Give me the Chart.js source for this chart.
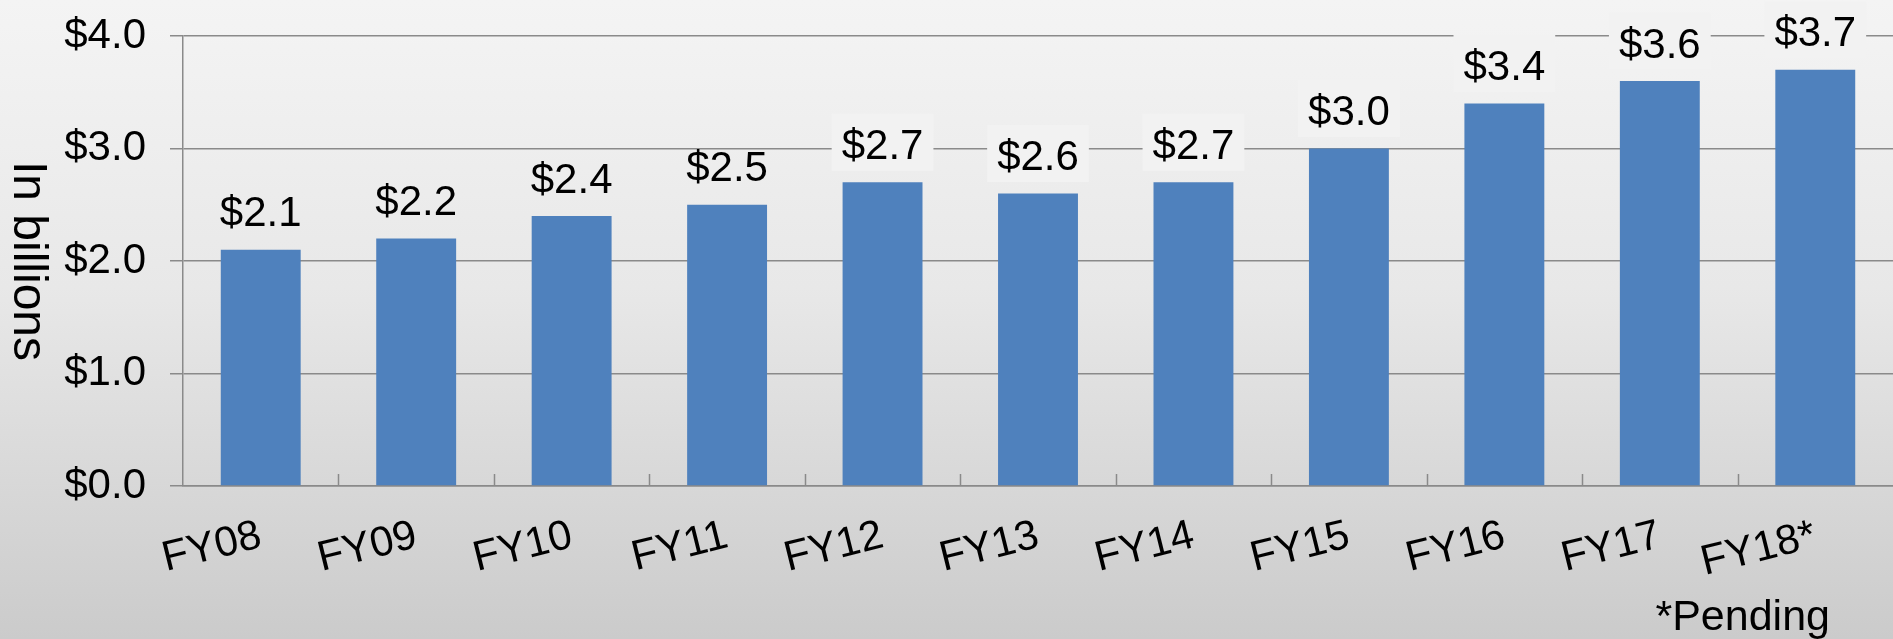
<!DOCTYPE html>
<html>
<head>
<meta charset="utf-8">
<title>Fondos por año fiscal</title>
<script src="https://cdn.jsdelivr.net/npm/chart.js@4.4.1/dist/chart.umd.min.js"></script>
<style>
    html, body { margin: 0; padding: 0; overflow: hidden; }
    body {
        width: 1893px;
        height: 639px;
        background: linear-gradient(to bottom, #f4f4f4 0%, #e8e8e8 45%, #cbcbcb 100%);
    }
    canvas { display: block; }
</style>
</head>
<body>
<canvas id="chartFondos" width="1893" height="639"></canvas>
<script>
// Datos del gráfico
const categorias = ['FY08', 'FY09', 'FY10', 'FY11', 'FY12', 'FY13', 'FY14', 'FY15', 'FY16', 'FY17', 'FY18*'];
const valores = [2.1, 2.2, 2.4, 2.5, 2.7, 2.6, 2.7, 3.0, 3.4, 3.6, 3.7];
const ticksY = [0, 1, 2, 3, 4];
const tituloEje = 'In billions';
const notaPie = '*Pending';

const FUENTE = '"Liberation Sans", Arial, sans-serif';
const GRIS = '#8a8a8a';

// Etiquetas de valor encima de cada barra (las de FY12 en adelante llevan caja de fondo)
const etiquetasValor = {
    id: 'etiquetasValor',
    afterDatasetsDraw(chart) {
        const ctx = chart.ctx;
        const meta = chart.getDatasetMeta(0);
        ctx.save();
        ctx.font = '42px ' + FUENTE;
        ctx.textAlign = 'center';
        ctx.textBaseline = 'alphabetic';
        meta.data.forEach((barra, i) => {
            const texto = '$' + valores[i].toFixed(1);
            const ancho = ctx.measureText(texto).width + 20;
            const base = barra.y - 23.5;
            if (i >= 4) {
                ctx.fillStyle = '#f2f2f2';
                ctx.fillRect(barra.x - ancho / 2, base - 45, ancho, 57);
            }
            ctx.fillStyle = '#000';
            ctx.fillText(texto, barra.x, base);
        });
        ctx.restore();
    }
};

// Marcas interiores del eje X, título del eje Y y nota al pie
const decoracion = {
    id: 'decoracion',
    beforeDatasetsDraw(chart) {
        const ctx = chart.ctx;
        const x = chart.scales.x;
        const abajo = chart.chartArea.bottom;
        ctx.save();
        ctx.strokeStyle = GRIS;
        ctx.lineWidth = 1.5;
        for (let i = 1; i < categorias.length; i++) {
            const px = Math.round(x.getPixelForValue(i - 0.5)) + 0.5;
            ctx.beginPath();
            ctx.moveTo(px, abajo);
            ctx.lineTo(px, abajo - 12);
            ctx.stroke();
        }
        ctx.restore();
    },
    afterDraw(chart) {
        const ctx = chart.ctx;
        const area = chart.chartArea;
        ctx.save();
        ctx.fillStyle = '#000';
        ctx.font = '48px ' + FUENTE;
        ctx.textAlign = 'center';
        ctx.textBaseline = 'alphabetic';
        ctx.translate(14, (area.top + area.bottom) / 2);
        ctx.rotate(Math.PI / 2);
        ctx.fillText(tituloEje, 0, 0);
        ctx.restore();

        ctx.save();
        ctx.fillStyle = '#000';
        ctx.font = '43px ' + FUENTE;
        ctx.textAlign = 'right';
        ctx.textBaseline = 'alphabetic';
        ctx.fillText(notaPie, chart.width - 63, 630);
        ctx.restore();
    }
};

window.renderizarGraficoFondos = function () {
    const ctx = document.getElementById('chartFondos');

    if (window.chartFondosInstance) {
        window.chartFondosInstance.destroy();
    }

    window.chartFondosInstance = new Chart(ctx, {
        type: 'bar',
        data: {
            labels: categorias,
            datasets: [{
                label: 'Fondos',
                data: valores,
                backgroundColor: '#4f81bd',
                borderWidth: 0,
                categoryPercentage: 1,
                barPercentage: 0.514
            }]
        },
        options: {
            responsive: false,
            animation: false,
            devicePixelRatio: 1,
            layout: {
                padding: { top: 36, right: 0, bottom: 0, left: 0 }
            },
            scales: {
                x: {
                    grid: {
                        display: true,
                        drawOnChartArea: false,
                        drawTicks: false
                    },
                    border: { display: true, color: GRIS, width: 1.5 },
                    ticks: {
                        color: '#000',
                        font: { family: FUENTE, size: 42 },
                        minRotation: 14,
                        maxRotation: 14,
                        autoSkip: false,
                        padding: 25
                    },
                    afterFit(scale) {
                        scale.height = 153;
                    }
                },
                y: {
                    min: 0,
                    max: 4,
                    afterBuildTicks(scale) {
                        scale.ticks = ticksY.map(v => ({ value: v }));
                    },
                    grid: {
                        color: GRIS,
                        lineWidth: 1.5,
                        tickLength: 13,
                        drawTicks: true
                    },
                    border: { display: true, color: GRIS, width: 1.5 },
                    ticks: {
                        color: '#000',
                        font: { family: FUENTE, size: 42 },
                        padding: 24,
                        callback: (v) => '$' + Number(v).toFixed(1)
                    },
                    afterFit(scale) {
                        scale.width = 183;
                        // el padding de las etiquetas no debe empujar el área hacia abajo
                        scale.paddingTop = 0;
                        scale.paddingBottom = 0;
                    }
                }
            },
            plugins: {
                legend: { display: false },
                tooltip: { enabled: false }
            }
        },
        plugins: [decoracion, etiquetasValor]
    });
};

window.renderizarGraficoFondos();
</script>
</body>
</html>
